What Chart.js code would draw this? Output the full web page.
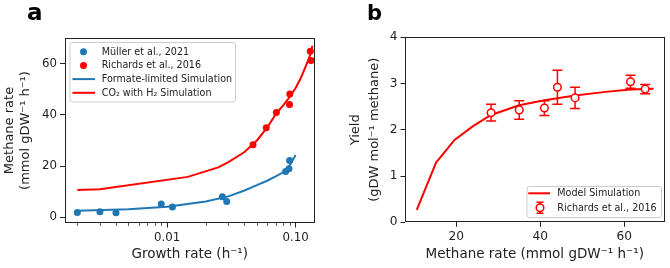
<!DOCTYPE html>
<html><head><meta charset="utf-8">
<script src="https://cdn.jsdelivr.net/npm/chart.js@4/dist/chart.umd.min.js"></script>
<style>
html,body{margin:0;padding:0;background:#fff;}
#wrap{position:relative;width:670px;height:268px;overflow:hidden;background:#fff;}
#ca{position:absolute;left:0;top:0;}
#cb{position:absolute;left:340px;top:0;}
</style></head><body>
<div id="wrap"><canvas id="ca" width="340" height="268"></canvas><canvas id="cb" width="330" height="268"></canvas></div>
<script>
// ---------- Panel a data ----------
const mullerGrowth   = [0.0020, 0.0030, 0.0040, 0.0090, 0.0110, 0.0269, 0.0291, 0.0836, 0.0887, 0.0898];
const mullerMethane  = [1.9, 2.2, 1.8, 5.2, 4.0, 8.0, 6.2, 17.9, 19.0, 22.2];
const richardsGrowth = [0.0466, 0.0591, 0.0708, 0.0897, 0.0901, 0.130, 0.132];
const richardsMethane= [28.3, 35.0, 40.9, 44.0, 48.1, 64.8, 61.2];
const formateSimGrowth  = [0.002, 0.005, 0.01, 0.02, 0.03, 0.04, 0.05, 0.06, 0.07, 0.08, 0.09, 0.10];
const formateSimMethane = [2.6, 3.2, 4.1, 6.2, 8.2, 10.5, 12.6, 14.3, 16.0, 17.6, 20.3, 24.3];
const co2SimGrowth  = [0.002, 0.003, 0.0145, 0.025, 0.03, 0.04, 0.05, 0.06, 0.07, 0.08, 0.09, 0.10, 0.11, 0.12, 0.13, 0.135];
const co2SimMethane = [10.7, 11.0, 15.8, 19.5, 21.6, 25.5, 30.0, 35.0, 40.3, 43.7, 47.0, 50.5, 54.5, 59.0, 63.5, 67.0];
const xMajorTicksA = [0.01, 0.1];
const xTickLabelsA = ['0.01', '0.10'];
const xMinorTicksA = [0.002,0.003,0.004,0.005,0.006,0.007,0.008,0.009,0.02,0.03,0.04,0.05,0.06,0.07,0.08,0.09];
const yTicksA = [0, 20, 40, 60];

// ---------- Panel b data ----------
const modelSimMethane = [10.6, 15.2, 19.6, 24.0, 28.3, 35.0, 41.0, 48.3, 55.6, 61.5, 67.0];
const modelSimYield   = [0.27, 1.29, 1.78, 2.08, 2.32, 2.53, 2.64, 2.74, 2.82, 2.87, 2.89];
const richardsBMethane = [28.3, 35.0, 41.0, 44.1, 48.3, 61.5, 65.0];
const richardsBYield   = [2.37, 2.43, 2.47, 2.92, 2.69, 3.04, 2.88];
const richardsBErr     = [0.18, 0.20, 0.16, 0.37, 0.23, 0.14, 0.10];
const xTicksB = [20, 40, 60];
const yTicksB = [0, 1, 2, 3, 4];

const BLUE = '#1f77b4', RED = '#ff0000', INK = '#222222';
const FONT = "'DejaVu Sans', sans-serif";
Chart.defaults.font.family = FONT;
Chart.defaults.color = INK;
Chart.defaults.animation = false;

const pts = (xs, ys) => xs.map((x, i) => ({x, y: ys[i]}));

function roundRect(ctx, x, y, w, h, r) {
  ctx.beginPath();
  ctx.moveTo(x + r, y); ctx.lineTo(x + w - r, y); ctx.quadraticCurveTo(x + w, y, x + w, y + r);
  ctx.lineTo(x + w, y + h - r); ctx.quadraticCurveTo(x + w, y + h, x + w - r, y + h);
  ctx.lineTo(x + r, y + h); ctx.quadraticCurveTo(x, y + h, x, y + h - r);
  ctx.lineTo(x, y + r); ctx.quadraticCurveTo(x, y, x + r, y); ctx.closePath();
}

function drawFrame(chart) {
  const {ctx, chartArea: a} = chart;
  ctx.save(); ctx.strokeStyle = INK; ctx.lineWidth = 1;
  const l = Math.round(a.left) + 0.5, t = Math.round(a.top) + 0.5;
  const r = Math.round(a.right) - 0.5, b = Math.round(a.bottom) - 0.5;
  ctx.strokeRect(l, t, r - l, b - t);
  ctx.restore();
}

function drawLegend(chart, box, rows, lineX0, lineX1, markX, textX) {
  const ctx = chart.ctx;
  ctx.save();
  roundRect(ctx, box.x + 0.5, box.y + 0.5, box.w, box.h, 2.5);
  ctx.fillStyle = 'rgba(255,255,255,0.85)'; ctx.fill();
  ctx.strokeStyle = '#cccccc'; ctx.lineWidth = 1; ctx.stroke();
  ctx.font = '9.6px ' + FONT; ctx.textBaseline = 'middle'; ctx.textAlign = 'left';
  chart.data.datasets.forEach((ds, i) => {
    const y = rows[i];
    if (ds.showLine) {
      ctx.strokeStyle = ds.borderColor; ctx.lineWidth = 2;
      ctx.beginPath(); ctx.moveTo(lineX0, y); ctx.lineTo(lineX1, y); ctx.stroke();
    } else if (ds.errorBars) {
      ctx.strokeStyle = ds.pointBorderColor; ctx.lineWidth = 1.5;
      ctx.beginPath(); ctx.moveTo(markX, y - 5.5); ctx.lineTo(markX, y + 5.5);
      ctx.moveTo(markX - 3.5, y - 5.5); ctx.lineTo(markX + 3.5, y - 5.5);
      ctx.moveTo(markX - 3.5, y + 5.5); ctx.lineTo(markX + 3.5, y + 5.5); ctx.stroke();
      ctx.beginPath(); ctx.arc(markX, y, ds.pointRadius, 0, Math.PI * 2);
      ctx.fillStyle = '#fff'; ctx.fill(); ctx.stroke();
    } else {
      ctx.beginPath(); ctx.arc(markX, y, ds.pointRadius, 0, Math.PI * 2);
      ctx.fillStyle = ds.pointBackgroundColor; ctx.fill();
    }
    ctx.fillStyle = INK;
    ctx.fillText(ds.label, textX, y + 0.5);
  });
  ctx.restore();
}

function panelLetter(chart, ch, x, y, size) {
  const ctx = chart.ctx;
  ctx.save(); ctx.fillStyle = '#000'; ctx.font = 'bold ' + size + 'px ' + FONT;
  ctx.textBaseline = 'alphabetic'; ctx.textAlign = 'left';
  ctx.fillText(ch, x, y); ctx.restore();
}

const commonTicks = (size) => ({font: {size}, color: INK, autoSkip: false, maxRotation: 0, padding: 3});
const commonGrid = {drawOnChartArea: false, drawTicks: true, tickLength: 4.5, color: INK, lineWidth: 1};

// ---------- Chart a ----------
new Chart(document.getElementById('ca'), {
  type: 'scatter',
  data: {datasets: [
    {label: 'Müller et al., 2021', data: pts(mullerGrowth, mullerMethane), pointRadius: 3.5, pointBackgroundColor: BLUE, pointBorderWidth: 0, borderColor: BLUE, order: 2},
    {label: 'Richards et al., 2016', data: pts(richardsGrowth, richardsMethane), pointRadius: 3.5, pointBackgroundColor: RED, pointBorderWidth: 0, borderColor: RED, order: 3},
    {label: 'Formate-limited Simulation', data: pts(formateSimGrowth, formateSimMethane), showLine: true, borderColor: BLUE, borderWidth: 2, pointRadius: 0, tension: 0, order: 0},
    {label: 'CO₂ with H₂ Simulation', data: pts(co2SimGrowth, co2SimMethane), showLine: true, borderColor: RED, borderWidth: 2, pointRadius: 0, tension: 0, order: 1}
  ]},
  options: {
    responsive: false, events: [],
    layout: {padding: {top: 38, right: 25, left: 0, bottom: 0}},
    plugins: {legend: {display: false}, tooltip: {enabled: false}},
    scales: {
      x: {type: 'logarithmic', min: 0.00159, max: 0.1415, bounds: 'data',
          afterBuildTicks: s => { s.ticks = xMajorTicksA.map(v => ({value: v})); },
          afterFit: s => { s.height = 45; },
          ticks: Object.assign(commonTicks(11.8), {callback: (v, i) => xTickLabelsA[i]}),
          grid: commonGrid, border: {display: false},
          title: {display: true, text: 'Growth rate (h⁻¹)', font: {size: 13.5}, color: INK, padding: {top: 0, bottom: 5}}},
      y: {type: 'linear', min: -2.2, max: 70, bounds: 'data',
          afterBuildTicks: s => { s.ticks = yTicksA.map(v => ({value: v})); },
          afterFit: s => { s.width = 64.5; },
          ticks: commonTicks(11.8), grid: commonGrid, border: {display: false},
          title: {display: true, text: ['Methane rate', '(mmol gDW⁻¹ h⁻¹)'], font: {size: 13, lineHeight: 1.27}, color: INK, padding: {top: 1.2, bottom: 0}}}
    }
  },
  plugins: [{
    id: 'decorA',
    afterDatasetsDraw(chart) {
      drawFrame(chart);
      const ctx = chart.ctx, xs = chart.scales.x, b = Math.round(chart.chartArea.bottom);
      ctx.save(); ctx.strokeStyle = INK; ctx.lineWidth = 0.8;
      xMinorTicksA.forEach(v => {
        const px = Math.round(xs.getPixelForValue(v)) + 0.5;
        ctx.beginPath(); ctx.moveTo(px, b); ctx.lineTo(px, b + 2.8); ctx.stroke();
      });
      ctx.restore();
    },
    afterDraw(chart) {
      drawLegend(chart, {x: 69.5, y: 42, w: 165.5, h: 59.5}, [51.8, 65.4, 79.1, 92.8], 72.5, 95, 83.5, 101.7);
      panelLetter(chart, 'a', 27, 20, 23);
    }
  }]
});

// ---------- Chart b ----------
new Chart(document.getElementById('cb'), {
  type: 'scatter',
  data: {datasets: [
    {label: 'Model Simulation', data: pts(modelSimMethane, modelSimYield), showLine: true, borderColor: RED, borderWidth: 2, pointRadius: 0, tension: 0, order: 1},
    {label: 'Richards et al., 2016', data: pts(richardsBMethane, richardsBYield), errorBars: richardsBErr, pointRadius: 3.8, pointBackgroundColor: '#ffffff', pointBorderColor: RED, pointBorderWidth: 1.5, borderColor: RED, order: 0}
  ]},
  options: {
    responsive: false, events: [],
    layout: {padding: {top: 37.3, right: 5, left: 0, bottom: 0}},
    plugins: {legend: {display: false}, tooltip: {enabled: false}},
    scales: {
      x: {type: 'linear', min: 7.8, max: 69.6, bounds: 'data',
          afterBuildTicks: s => { s.ticks = xTicksB.map(v => ({value: v})); },
          afterFit: s => { s.height = 45.7; },
          ticks: commonTicks(12.2), grid: commonGrid, border: {display: false},
          title: {display: true, text: 'Methane rate (mmol gDW⁻¹ h⁻¹)', font: {size: 13.5}, color: INK, padding: {top: 0, bottom: 5}}},
      y: {type: 'linear', min: 0, max: 4, bounds: 'data',
          afterBuildTicks: s => { s.ticks = yTicksB.map(v => ({value: v})); },
          afterFit: s => { s.width = 65; },
          ticks: commonTicks(12.2), grid: commonGrid, border: {display: false},
          title: {display: true, text: ['Yield', '(gDW mol⁻¹ methane)'], font: {size: 13, lineHeight: 1.5}, color: INK, padding: {top: 5.7, bottom: 0}}}
    }
  },
  plugins: [{
    id: 'decorB',
    beforeDatasetDraw(chart, args) {
      const ds = chart.data.datasets[args.index];
      if (!ds.errorBars) return;
      const ctx = chart.ctx, xs = chart.scales.x, ys = chart.scales.y;
      ctx.save(); ctx.strokeStyle = ds.pointBorderColor; ctx.lineWidth = 1.5;
      ds.data.forEach((p, i) => {
        const px = xs.getPixelForValue(p.x);
        const yt = ys.getPixelForValue(p.y + ds.errorBars[i]);
        const yb = ys.getPixelForValue(p.y - ds.errorBars[i]);
        ctx.beginPath();
        ctx.moveTo(px, yt); ctx.lineTo(px, yb);
        ctx.moveTo(px - 5, yt); ctx.lineTo(px + 5, yt);
        ctx.moveTo(px - 5, yb); ctx.lineTo(px + 5, yb);
        ctx.stroke();
      });
      ctx.restore();
    },
    afterDatasetsDraw(chart) { drawFrame(chart); },
    afterDraw(chart) {
      drawLegend(chart, {x: 186.5, y: 186, w: 134.5, h: 31}, [193.3, 207.7], 188.3, 210, 200, 217.3);
      panelLetter(chart, 'b', 27, 20, 21);
    }
  }]
});
</script>
</body></html>
